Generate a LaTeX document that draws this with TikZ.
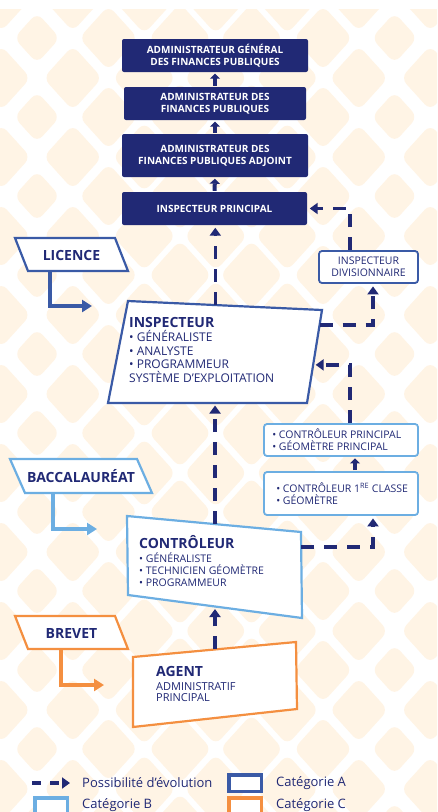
\documentclass[tikz,border=0pt]{standalone}
\usepackage{fontspec}
\setmainfont{Open Sans}
\usetikzlibrary{arrows.meta,calc,positioning}
\definecolor{marine}{RGB}{33,41,117}
\definecolor{catA}{RGB}{58,90,166}
\definecolor{catB}{RGB}{108,174,226}
\definecolor{catC}{RGB}{244,143,64}
\definecolor{fond}{RGB}{255,244,229}
\tikzset{
  grade/.style={fill=marine, text=white, rounded corners=2pt, align=center, inner sep=0pt, font=\bfseries\fontsize{10}{12}\selectfont},
  poste/.style={draw=#1, line width=1.8pt, fill=white, rounded corners=3pt, inner sep=0pt},
  cadre/.style={draw=#1, line width=2.2pt, fill=white},
  titre/.style={text=marine, inner sep=0pt, font=\bfseries\fontsize{14}{16}\selectfont},
  liste/.style={text=marine, inner sep=0pt, align=left, font=\fontsize{10.5}{12}\selectfont},
  legende/.style={text=marine, inner sep=0pt, font=\fontsize{13}{15}\selectfont},
  monte/.style={draw=marine, line width=4pt, -{Triangle[width=10pt,length=5pt]}, shorten >=1.5pt, shorten <=1pt},
  evol/.style={draw=marine, line width=3.6pt, dash pattern=on 13pt off 10pt, -{Triangle[width=11pt,length=8pt]}, shorten >=2.5pt},
  acces/.style={draw=#1, line width=4pt, -{Triangle[width=12pt,length=10pt]}},
}
\begin{document}
\begin{tikzpicture}[x=1pt,y=-1pt]
\useasboundingbox (0,0) rectangle (437,812);
\fill[white] (0,0) rectangle (437,812);
% fond losanges
\begin{scope}
  \clip (0,9) rectangle (437,812);
  \foreach \c in {-1,...,11}{
    \pgfmathsetmacro\xc{37+35.75*\c}
    \pgfmathsetmacro\yo{mod(\c+2,2)==1 ? 78 : 38}
    \pgfmathsetmacro\sz{(\c==0 || \c==10) ? 0.64 : ((\c>2 && \c<8) ? 0.88 : 0.82)}
    \foreach \k in {-1,...,10}{
      \pgfmathsetmacro\yc{\yo+79*\k}
      \fill[fond, rounded corners=8pt] (\xc-35.75*\sz,\yc) -- (\xc,\yc-39.5*\sz) -- (\xc+35.75*\sz,\yc) -- (\xc,\yc+39.5*\sz) -- cycle;
    }
  }
\end{scope}

% grades superieurs
\node[grade, minimum width=186pt, minimum height=33pt] (agfip) at (215,55.5) {ADMINISTRATEUR GÉNÉRAL\\DES FINANCES PUBLIQUES};
\node[grade, minimum width=182pt, minimum height=33pt] (afip) at (215,103.5) {ADMINISTRATEUR DES\\FINANCES PUBLIQUES};
\node[grade, minimum width=186pt, minimum height=43pt] (afipa) at (215,155.5) {ADMINISTRATEUR DES\\FINANCES PUBLIQUES ADJOINT};
\node[grade, minimum width=185pt, minimum height=33pt] (ip) at (214.5,208.5) {INSPECTEUR PRINCIPAL};
\draw[monte] (afip.north) -- (agfip.south);
\draw[monte] (afipa.north) -- (afip.south);
\draw[monte] (ip.north) -- (afipa.south);

% postes de droite
\node[poste=catA, minimum width=99pt, minimum height=32pt] (idiv) at (368.5,267) {};
\node[liste, align=center] (idiv-t) at (idiv.center) {INSPECTEUR\\DIVISIONNAIRE};
\node[poste=catB, minimum width=154pt, minimum height=32pt] (cp) at (341,440) {};
\node[liste, anchor=west] (cp-t) at ([xshift=9pt]cp.west) {• CONTRÔLEUR PRINCIPAL\\• GÉOMÈTRE PRINCIPAL};
\node[poste=catB, minimum width=154pt, minimum height=43pt] (c1) at (341,493.5) {};
\node[liste, anchor=west] (c1-t) at ([xshift=13pt]c1.west) {• CONTRÔLEUR 1\textsuperscript{RE} CLASSE\\• GÉOMÈTRE};

% inspecteur
\coordinate (insp1) at (128,301);
\coordinate (insp2) at (322,310);
\coordinate (insp3) at (307,403);
\coordinate (insp4) at (108,403);
\draw[cadre=catA] (insp1) -- (insp2) -- (insp3) -- (insp4) -- cycle;
\node[titre, anchor=west] (insp) at (129,322) {INSPECTEUR};
\node[liste, anchor=north west, font=\fontsize{12}{13.4}\selectfont] (insp-l) at (129,330.5) {• GÉNÉRALISTE\\• ANALYSTE\\• PROGRAMMEUR\\SYSTÈME D’EXPLOITATION};

% controleur
\coordinate (ctrl1) at (127,516);
\coordinate (ctrl2) at (301,532);
\coordinate (ctrl3) at (302,618);
\coordinate (ctrl4) at (128,595);
\draw[cadre=catB] (ctrl1) -- (ctrl2) -- (ctrl3) -- (ctrl4) -- cycle;
\node[titre, anchor=west] (ctrl) at (139,542) {CONTRÔLEUR};
\node[liste, anchor=north west] (ctrl-l) at (139,553) {• GÉNÉRALISTE\\• TECHNICIEN GÉOMÈTRE\\• PROGRAMMEUR};

% agent
\coordinate (agent1) at (133,657);
\coordinate (agent2) at (296,642);
\coordinate (agent3) at (297,709);
\coordinate (agent4) at (133,727);
\draw[cadre=catC] (agent1) -- (agent2) -- (agent3) -- (agent4) -- cycle;
\node[titre, anchor=west] (agent) at (156,671) {AGENT};
\node[liste, anchor=north west, font=\fontsize{11}{11.5}\selectfont] (agent-l) at (156,682) {ADMINISTRATIF\\PRINCIPAL};

% diplomes
\coordinate (lic1) at (15,238);
\coordinate (lic2) at (115,238);
\coordinate (lic3) at (128,271);
\coordinate (lic4) at (28,271);
\draw[cadre=catA] (lic1) -- (lic2) -- (lic3) -- (lic4) -- cycle;
\node[titre] (licence) at (71.5,255) {LICENCE};
\coordinate (bac1) at (10,459);
\coordinate (bac2) at (137,459);
\coordinate (bac3) at (152,493);
\coordinate (bac4) at (25,493);
\draw[cadre=catB] (bac1) -- (bac2) -- (bac3) -- (bac4) -- cycle;
\node[titre] (bac) at (81,476.5) {BACCALAURÉAT};
\coordinate (brev1) at (15,616);
\coordinate (brev2) at (115,616);
\coordinate (brev3) at (128,649);
\coordinate (brev4) at (28,649);
\draw[cadre=catC] (brev1) -- (brev2) -- (brev3) -- (brev4) -- cycle;
\node[titre] (brevet) at (71.5,633) {BREVET};

% acces par diplome
\coordinate (lic-s) at ($(lic4)!0.22!(lic3)$);
\coordinate (lic-fin) at (92,306);
\draw[acces=catA] (lic-s) |- (lic-fin);
\coordinate (bac-s) at ($(bac4)!0.22!(bac3)$);
\coordinate (bac-fin) at (97,529);
\draw[acces=catB] (bac-s) |- (bac-fin);
\coordinate (brev-s) at ($(brev4)!0.33!(brev3)$);
\coordinate (brev-fin) at (104,685);
\draw[acces=catC] (brev-s) |- (brev-fin);

% evolutions
\coordinate (insp-n) at ($(insp1)!0.45!(insp2)$);
\coordinate (insp-e1) at ($(insp2)!0.16!(insp3)$);
\coordinate (insp-e2) at ($(insp2)!0.59!(insp3)$);
\coordinate (ctrl-n) at ($(ctrl1)!0.506!(ctrl2)$);
\coordinate (ctrl-e) at ($(ctrl2)!0.174!(ctrl3)$);
\coordinate (ctrl-s) at ($(ctrl4)!0.5!(ctrl3)$);
\coordinate (agent-n) at ($(agent1)!0.503!(agent2)$);
\draw[evol] (insp-n) -- (insp-n |- ip.south);
\draw[evol] (insp-e1) -| ([xshift=4.5pt]idiv.south);
\draw[evol] ([xshift=-18.5pt]idiv.north) |- (ip.east);
\draw[evol] (ctrl-n) -- (ctrl-n |- insp4);
\draw[evol] (ctrl-e) -| ([xshift=32pt]c1.south);
\draw[monte] ([xshift=14pt]c1.north) -- ([xshift=14pt]cp.south);
\draw[evol] ([xshift=9pt]cp.north) |- (insp-e2);
\draw[evol] (agent-n) -- (agent-n |- ctrl-s);

% legende
\coordinate (leg1) at (32,783);
\coordinate (leg2) at (70,783);
\draw[evol, dash pattern=on 9pt off 9pt, shorten >=0pt] (leg1) -- (leg2);
\node[legende, anchor=west] (leg-evol) at (82,783) {Possibilité d’évolution};
\node[draw=catA, line width=3.5pt, fill=white, minimum width=32.5pt, minimum height=16.5pt] (leg-a) at (245,783) {};
\node[legende, anchor=west] (leg-at) at (276,783) {Catégorie A};
\node[draw=catB, line width=3.5pt, fill=white, minimum width=32.5pt, minimum height=16.5pt] (leg-b) at (51,806) {};
\node[legende, anchor=west] (leg-bt) at (82,805.5) {Catégorie B};
\node[draw=catC, line width=3.5pt, fill=white, minimum width=32.5pt, minimum height=16.5pt] (leg-c) at (245,806) {};
\node[legende, anchor=west] (leg-ct) at (276,805.5) {Catégorie C};
\end{tikzpicture}
\end{document}
